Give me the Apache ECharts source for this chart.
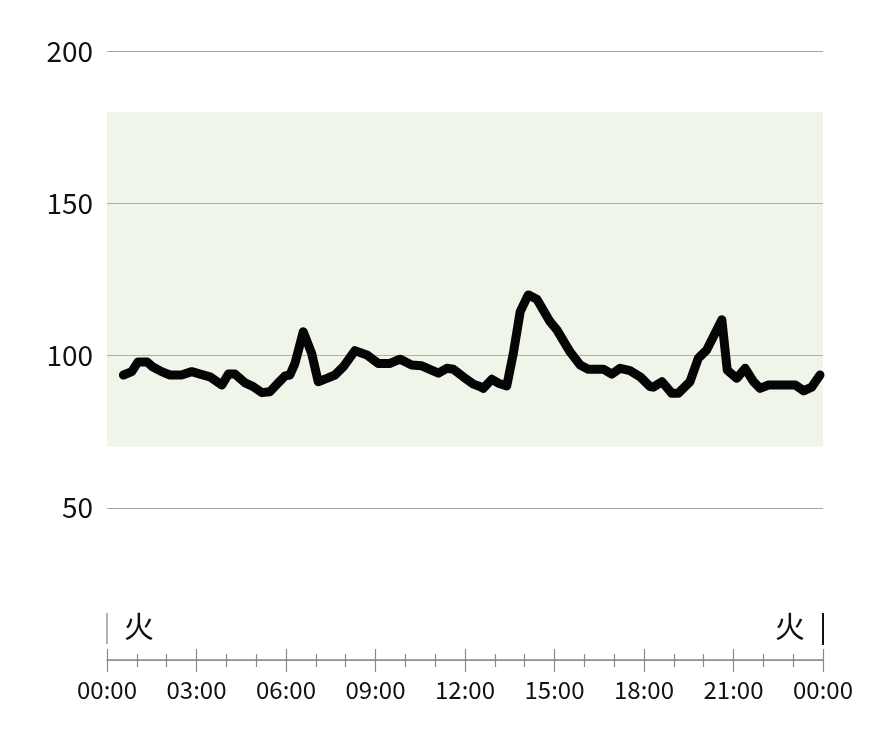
<!DOCTYPE html>
<html>
<head>
<meta charset="utf-8">
<script src="https://cdn.jsdelivr.net/npm/echarts@6/dist/echarts.min.js"></script>
<style>
html,body{margin:0;padding:0;background:#fff;}
#chart{width:870px;height:748px;}
</style>
</head>
<body>
<div id="chart"></div>
<script>
// hours of day (decimal) and glucose values (mg/dL)
const times = [0.55,0.83,1.04,1.34,1.54,1.83,2.11,2.5,2.84,3.12,3.45,3.85,4.07,4.29,4.63,4.9,5.19,5.46,5.74,5.97,
  6.13,6.3,6.58,6.86,7.08,7.37,7.64,7.92,8.31,8.71,9.09,9.49,9.82,10.21,10.55,11.11,11.39,11.61,11.94,12.28,12.5,
  12.61,12.9,13.12,13.4,13.62,13.85,14.12,14.41,14.85,15.08,15.52,15.86,16.13,16.64,16.92,17.2,17.53,17.87,18.2,
  18.31,18.6,18.93,19.15,19.54,19.82,20.1,20.61,20.79,21.11,21.39,21.67,21.89,22.17,23.07,23.35,23.62,23.9];
const values = [93.6,94.7,97.9,97.9,96.2,94.7,93.6,93.6,94.7,93.9,93.0,90.3,93.9,93.9,91.0,89.8,87.8,88.1,91.0,93.3,
  93.6,97.4,107.8,100.7,91.4,92.5,93.6,96.3,101.6,100.2,97.4,97.4,98.8,96.9,96.6,94.2,95.8,95.5,93.0,90.6,89.8,
  89.2,92.2,90.9,90.0,100.7,114.4,119.9,118.5,111.1,108.4,101.2,96.9,95.5,95.5,93.9,95.8,95.0,93.0,89.8,
  89.6,91.4,87.6,87.6,91.4,99.1,101.8,111.7,95.2,92.5,95.8,91.4,89.2,90.3,90.3,88.4,89.6,93.6];
const targetRange = [70, 180];
const yTicks = [50, 100, 150, 200];
const xTickHours = [0, 3, 6, 9, 12, 15, 18, 21, 24];
const dayLabel = '火';

const FONT = '"Noto Sans CJK JP", "Noto Sans", sans-serif';
const chart = echarts.init(document.getElementById('chart'));
const data = times.map((t, i) => [t, values[i]]);
const pad = n => (n < 10 ? '0' : '') + n;

const tickColor = '#8a8a8a';
const option = {
  animation: false,
  backgroundColor: '#ffffff',
  grid: [
    {left: 107, right: 47, top: 51, height: 609, outerBoundsMode: 'none', containLabel: false}
  ],
  xAxis: [
    {
      type: 'value', gridIndex: 0, min: 0, max: 24, interval: 3, position: 'bottom',
      axisLine: {show: true, lineStyle: {color: tickColor, width: 1.5}},
      axisTick: {show: true, length: 12, lineStyle: {color: tickColor, width: 1.2}},
      minorTick: {show: true, splitNumber: 3, length: 7, lineStyle: {color: tickColor, width: 1.2}},
      splitLine: {show: false},
      axisLabel: {
        show: true, margin: 18, color: '#111', fontSize: 24, fontFamily: FONT,
        formatter: v => xTickHours.indexOf(v) >= 0 ? pad(v % 24) + ':00' : ''
      }
    },
    {
      type: 'value', gridIndex: 0, min: 0, max: 24, interval: 3, position: 'bottom',
      axisLine: {show: false},
      axisTick: {show: true, inside: true, length: 11, lineStyle: {color: tickColor, width: 1.2}},
      minorTick: {show: true, splitNumber: 3, length: 6, lineStyle: {color: tickColor, width: 1.2}},
      splitLine: {show: false},
      axisLabel: {show: false}
    }
  ],
  yAxis: [
    {
      type: 'value', gridIndex: 0, min: 0, max: 200, interval: 50,
      axisLine: {show: false}, axisTick: {show: false},
      splitLine: {show: true, lineStyle: {color: '#a8a8a8', width: 1}},
      axisLabel: {
        margin: 14, color: '#111', fontSize: 28, fontFamily: FONT,
        formatter: v => yTicks.indexOf(v) >= 0 ? String(v) : ''
      }
    }
  ],
  series: [
    {
      type: 'line', xAxisIndex: 0, yAxisIndex: 0, data: data,
      showSymbol: false, symbol: 'none', smooth: false,
      lineStyle: {color: '#050505', width: 9, join: 'round', cap: 'round'},
      markArea: {
        silent: true,
        itemStyle: {color: 'rgba(187,214,160,0.24)'},
        data: [[{yAxis: targetRange[0]}, {yAxis: targetRange[1]}]]
      },
      z: 3
    }
  ]
};
chart.setOption(option);

const x0 = chart.convertToPixel({xAxisIndex: 0}, 0);
const x1 = chart.convertToPixel({xAxisIndex: 0}, 24);
const yBase = chart.convertToPixel({yAxisIndex: 0}, 0);
chart.setOption({
  graphic: [
    {type: 'line', shape: {x1: x0, y1: yBase - 47, x2: x0, y2: yBase - 16}, style: {stroke: '#9a9a9a', lineWidth: 1.5}},
    {type: 'line', shape: {x1: x1, y1: yBase - 47, x2: x1, y2: yBase - 15}, style: {stroke: '#111', lineWidth: 2}},
    {type: 'text', x: x0 + 32, y: yBase - 34, style: {text: dayLabel, fill: '#111', font: '30px ' + FONT, align: 'center', verticalAlign: 'middle'}},
    {type: 'text', x: x1 - 33, y: yBase - 34, style: {text: dayLabel, fill: '#111', font: '30px ' + FONT, align: 'center', verticalAlign: 'middle'}}
  ]
});
</script>
</body>
</html>
